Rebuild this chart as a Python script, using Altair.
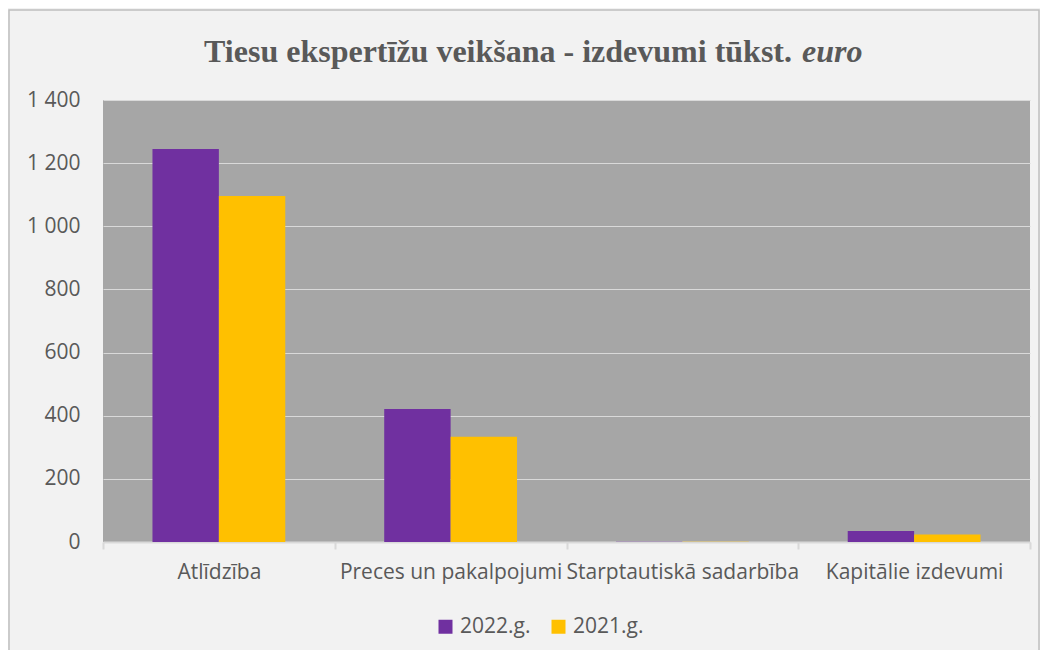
import altair as alt
import pandas as pd

categories = ["Atlīdzība", "Preces un pakalpojumi", "Starptautiskā sadarbība", "Kapitālie izdevumi"]
series = ["2022.g.", "2021.g."]
values_2022 = [1245, 421, 1, 35]
values_2021 = [1096, 333, 1, 24]
colors = ["#7030A0", "#FFC000"]
title_main = "Tiesu ekspertīžu veikšana - izdevumi tūkst."
title_italic = "euro"

rows = []
for c, a, b in zip(categories, values_2022, values_2021):
    rows.append({"cat": c, "series": series[0], "value": a})
    rows.append({"cat": c, "series": series[1], "value": b})
df = pd.DataFrame(rows)

FONT = "Open Sans"
TXT = "#595959"
FS = 21

bars = alt.Chart(df).mark_bar().encode(
    x=alt.X("cat:N", sort=categories, title=None,
            scale=alt.Scale(paddingInner=0, paddingOuter=0),
            axis=alt.Axis(labelAngle=0, labelFont=FONT, labelFontSize=FS, labelColor=TXT,
                          domainColor="#D9D9D9", domainWidth=2, tickColor="#D9D9D9",
                          tickWidth=2, tickSize=7, tickBand="extent", labelPadding=12,
                          labelBaseline="top", labelLimit=0)),
    xOffset=alt.XOffset("series:N", sort=series,
                        scale=alt.Scale(paddingInner=0, paddingOuter=0.745)),
    y=alt.Y("value:Q", title=None,
            scale=alt.Scale(domain=[0, 1400]),
            axis=alt.Axis(values=[0, 200, 400, 600, 800, 1000, 1200, 1400],
                          labelExpr="replace(format(datum.value, ','), ',', ' ')",
                          labelFont=FONT, labelFontSize=FS, labelColor=TXT,
                          domain=False, ticks=False, labelPadding=23,
                          gridColor="#D9D9D9", gridWidth=1)),
    color=alt.Color("series:N", sort=series,
                    scale=alt.Scale(domain=series, range=colors),
                    legend=alt.Legend(title=None, orient="none", legendX=332, legendY=516,
                                      direction="horizontal", symbolType="square",
                                      symbolSize=196, symbolStrokeWidth=0,
                                      labelFont=FONT, labelFontSize=FS, labelColor=TXT,
                                      columnPadding=17, labelOffset=4)),
)

tdf = pd.DataFrame({"t": [title_main]})
tdf2 = pd.DataFrame({"t": [title_italic]})
t1 = alt.Chart(tdf).mark_text(font="Liberation Serif", fontSize=32, fontWeight="bold",
                              color=TXT, align="right", baseline="alphabetic").encode(
    text="t:N", x=alt.value(689), y=alt.value(-38))
t2 = alt.Chart(tdf2).mark_text(font="Liberation Serif", fontSize=32, fontWeight="bold",
                               fontStyle="italic", color=TXT, align="left",
                               baseline="alphabetic").encode(
    text="t:N", x=alt.value(699), y=alt.value(-38))

frame = alt.Chart(tdf).mark_rect(fill=None, stroke="#BFBFBF", strokeWidth=1.5).encode(
    x=alt.value(-94), x2=alt.value(936), y=alt.value(-90), y2=alt.value(560))

chart = alt.layer(frame, bars, t1, t2).properties(
    width=927, height=442,
    autosize=alt.AutoSizeParams(type="none"),
    padding={"left": 95, "top": 92, "right": 10, "bottom": 108},
    background="#F2F2F2",
).configure_view(fill="#A6A6A6", stroke=None)

chart.save("out.html", embed_options={"renderer": "svg", "actions": False})
